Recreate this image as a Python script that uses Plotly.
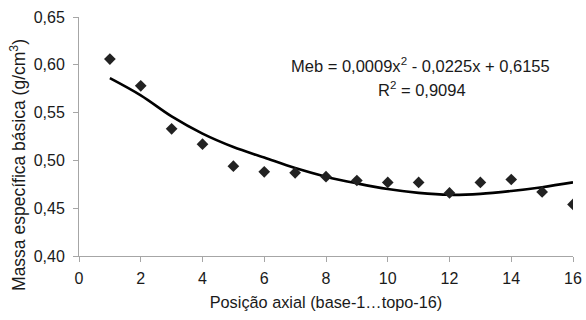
import plotly.graph_objects as go

posicao = [1, 2, 3, 4, 5, 6, 7, 8, 9, 10, 11, 12, 13, 14, 15, 16]
meb = [0.606, 0.578, 0.533, 0.517, 0.494, 0.488, 0.487, 0.483, 0.479, 0.477,
       0.477, 0.466, 0.477, 0.480, 0.467, 0.454]
tendencia = [0.586, 0.568, 0.546, 0.528, 0.514, 0.503, 0.492, 0.483, 0.476, 0.470,
             0.466, 0.464, 0.465, 0.468, 0.472, 0.477]
x_ticks = [0, 2, 4, 6, 8, 10, 12, 14, 16]
y_ticks = [0.40, 0.45, 0.50, 0.55, 0.60, 0.65]

FONT = "Liberation Sans, Arial, sans-serif"

fig = go.Figure()
fig.add_trace(go.Scatter(
    x=posicao, y=tendencia, mode="lines", line=dict(color="black", width=2.6, shape="spline"),
    showlegend=False, hoverinfo="skip"))
fig.add_trace(go.Scatter(
    x=posicao, y=meb, mode="markers",
    marker=dict(symbol="diamond", size=9, color="#222222"),
    showlegend=False))

fig.update_layout(
    width=586, height=320,
    margin=dict(l=79, r=13, t=17, b=64, autoexpand=False),
    paper_bgcolor="white", plot_bgcolor="white",
    separators=", ",
    font=dict(family=FONT, size=16, color="#1a1a1a"),
    xaxis=dict(
        range=[0, 16], tickvals=x_ticks, showgrid=False, zeroline=False,
        showline=True, linecolor="#a6a6a6", linewidth=1, automargin=False,
        ticks="outside", ticklen=5, tickcolor="#a6a6a6", tickfont=dict(size=16),
        ticklabelstandoff=3, ticklabeloverflow="allow",
        title=dict(text="Posição axial (base-1…topo-16)", standoff=10, font=dict(size=16.3)),
    ),
    yaxis=dict(
        range=[0.40, 0.65], tickvals=y_ticks, tickformat=".2f", showgrid=False, zeroline=False,
        showline=True, linecolor="#a6a6a6", linewidth=1, automargin=False,
        ticks="outside", ticklen=5, tickcolor="#a6a6a6", tickfont=dict(size=16),
        ticklabelstandoff=5, ticklabeloverflow="allow",
    ),
    annotations=[
        dict(text="Massa específica básica (g/cm<sup>3</sup>)", textangle=-90,
             xref="paper", yref="paper", x=-61 / 494, y=0.381, showarrow=False,
             xanchor="center", yanchor="middle", font=dict(size=17.5)),
        dict(text="Meb = 0,0009x<sup>2</sup> - 0,0225x + 0,6155", xref="paper", yref="paper",
             x=0.692, y=0.799, showarrow=False, xanchor="center", yanchor="middle",
             font=dict(size=16.5)),
        dict(text="R<sup>2</sup> = 0,9094", xref="paper", yref="paper",
             x=0.694, y=0.699, showarrow=False, xanchor="center", yanchor="middle",
             font=dict(size=16.5)),
    ],
)

fig.write_html("out.html", config={"displayModeBar": False},
               post_script="document.body.style.margin='0px';")
